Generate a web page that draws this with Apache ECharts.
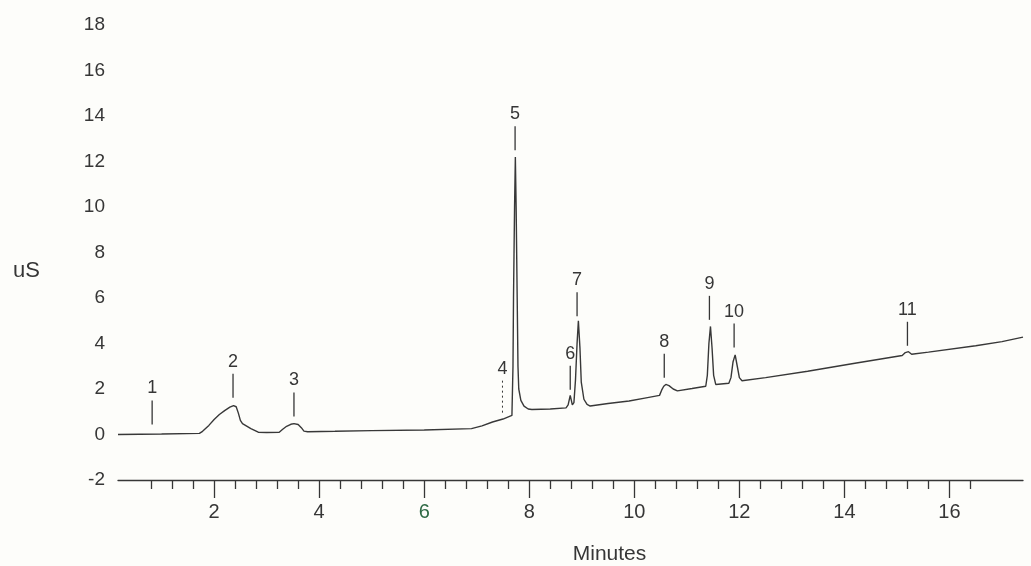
<!DOCTYPE html>
<html>
<head>
<meta charset="utf-8">
<script src="https://cdn.jsdelivr.net/npm/echarts@6/dist/echarts.min.js"></script>
<style>
html,body{margin:0;padding:0;background:#fdfdfa;}
#chart{width:1031px;height:566px;}
</style>
</head>
<body>
<div id="chart"></div>
<script>
// Chromatogram trace: [minutes, uS]
const trace = [
  [0.17, 0.0], [1.0, 0.02], [1.72, 0.05],
  [1.78, 0.14], [1.9, 0.4], [2.0, 0.66], [2.1, 0.88], [2.2, 1.05], [2.3, 1.2], [2.37, 1.27], [2.42, 1.22],
  [2.46, 0.95], [2.5, 0.62], [2.54, 0.48], [2.62, 0.37], [2.7, 0.26], [2.78, 0.17], [2.84, 0.1],
  [3.0, 0.09], [3.24, 0.1],
  [3.3, 0.22], [3.38, 0.36], [3.46, 0.45], [3.52, 0.48], [3.6, 0.44], [3.66, 0.3], [3.71, 0.15], [3.78, 0.12],
  [4.3, 0.14], [5.0, 0.17], [6.0, 0.2], [6.9, 0.26], [7.1, 0.38], [7.3, 0.55], [7.5, 0.68], [7.67, 0.84],
  [7.69, 3.0], [7.70, 6.0], [7.72, 10.0], [7.735, 12.2], [7.75, 10.0], [7.77, 6.0], [7.785, 3.0],
  [7.80, 2.0], [7.84, 1.5], [7.9, 1.25], [7.98, 1.12],
  [8.05, 1.1], [8.4, 1.12], [8.7, 1.17],
  [8.74, 1.3], [8.78, 1.72], [8.82, 1.3],
  [8.85, 1.4], [8.88, 2.4], [8.91, 4.0], [8.935, 5.0], [8.965, 3.8], [8.99, 2.3], [9.04, 1.55], [9.1, 1.32], [9.16, 1.25],
  [9.5, 1.36], [9.9, 1.47], [10.2, 1.6], [10.48, 1.72],
  [10.52, 1.95], [10.56, 2.12], [10.6, 2.2], [10.66, 2.15], [10.74, 2.0], [10.82, 1.92],
  [11.1, 2.02], [11.36, 2.12],
  [11.39, 2.6], [11.42, 4.0], [11.45, 4.75], [11.48, 3.8], [11.51, 2.6], [11.55, 2.2],
  [11.8, 2.25],
  [11.84, 2.5], [11.88, 3.2], [11.92, 3.5], [11.96, 3.0], [12.0, 2.5], [12.05, 2.36],
  [12.5, 2.5], [13.3, 2.78], [14.2, 3.13], [15.1, 3.47],
  [15.16, 3.6], [15.22, 3.64], [15.28, 3.53],
  [15.6, 3.62], [16.5, 3.9], [17.0, 4.08], [17.4, 4.28]
];

// Peak annotations
const peakNames  = ['1', '2', '3', '4', '5', '6', '7', '8', '9', '10', '11'];
const peakTimes  = [0.82, 2.36, 3.52, 7.49, 7.73, 8.78, 8.91, 10.57, 11.43, 11.9, 15.2];
const peakLevels = [0.44, 1.62, 0.79, 0.96, 12.5, 1.97, 5.2, 2.5, 5.04, 3.82, 3.9];
const peakDotted = [false, false, false, true, false, false, false, false, false, false, false];

// Axis ticks
const xMajorTicks = [2, 4, 6, 8, 10, 12, 14, 16];
const xMinorTicks = [0.8, 1.2, 1.6, 2.4, 2.8, 3.2, 3.6, 4.4, 4.8, 5.2, 5.6, 6.4, 6.8, 7.2, 7.6,
  8.4, 8.8, 9.2, 9.6, 10.4, 10.8, 11.2, 11.6, 12.4, 12.8, 13.2, 13.6, 14.4, 14.8, 15.2, 15.6, 16.4];

const INK = '#363636';
const FONT = '"Liberation Sans", Arial, sans-serif';

const chart = echarts.init(document.getElementById('chart'));
chart.setOption({
  backgroundColor: '#fdfdfa',
  animation: false,
  grid: { left: 118, right: 8, top: 25, bottom: 86, outerBoundsMode: 'none', containLabel: false },
  xAxis: [
    {
      type: 'value', min: 0.17, max: 17.4,
      name: 'Minutes', nameLocation: 'middle', nameGap: 64,
      nameTextStyle: { fontSize: 21, color: INK, fontFamily: FONT, padding: [0, 0, 0, 78] },
      axisLine: { show: true, onZero: false, lineStyle: { color: INK, width: 1.3 } },
      axisTick: { show: true, customValues: xMajorTicks, length: 18, lineStyle: { color: INK, width: 1.3 } },
      axisLabel: {
        customValues: xMajorTicks, margin: 22, fontSize: 20, color: INK, fontFamily: FONT,
        formatter: v => (v === 6 ? '{g|6}' : String(v)),
        rich: { g: { color: '#2f6a45', fontSize: 20, fontFamily: FONT } }
      },
      splitLine: { show: false }
    },
    {
      type: 'value', min: 0.17, max: 17.4, position: 'bottom',
      axisLine: { show: false, onZero: false },
      axisTick: { show: true, customValues: xMinorTicks, length: 9, lineStyle: { color: INK, width: 1.3 } },
      axisLabel: { show: false },
      splitLine: { show: false }
    }
  ],
  yAxis: {
    type: 'value', min: -2, max: 18, interval: 2,
    name: 'uS', nameLocation: 'middle', nameRotate: 0, nameGap: 78,
    nameTextStyle: { fontSize: 22, color: INK, fontFamily: FONT, verticalAlign: 'top', padding: [7, 0, 0, 0] },
    axisLine: { show: false },
    axisTick: { show: false },
    axisLabel: { margin: 13, fontSize: 19, color: INK, fontFamily: FONT },
    splitLine: { show: false }
  },
  series: [
    {
      type: 'line', xAxisIndex: 0, yAxisIndex: 0,
      data: trace, showSymbol: false, smooth: false,
      lineStyle: { color: '#383838', width: 1.4 }
    },
    {
      type: 'custom', xAxisIndex: 0, yAxisIndex: 0,
      data: peakTimes.map((t, i) => [t, peakLevels[i]]),
      clip: false,
      renderItem: function (params, api) {
        const i = params.dataIndex;
        const p = api.coord([api.value(0), api.value(1)]);
        const len = peakDotted[i] ? 32 : 24;
        return {
          type: 'group',
          children: [
            {
              type: 'line',
              shape: { x1: p[0], y1: p[1], x2: p[0], y2: p[1] - len },
              style: { stroke: INK, lineWidth: peakDotted[i] ? 1 : 1.3, lineDash: peakDotted[i] ? [2, 3] : null }
            },
            {
              type: 'text',
              style: {
                text: peakNames[i], x: p[0], y: p[1] - len - 3,
                textAlign: 'center', textVerticalAlign: 'bottom',
                fontSize: 18, fontFamily: FONT, fill: INK
              }
            }
          ]
        };
      }
    }
  ]
});
</script>
</body>
</html>
